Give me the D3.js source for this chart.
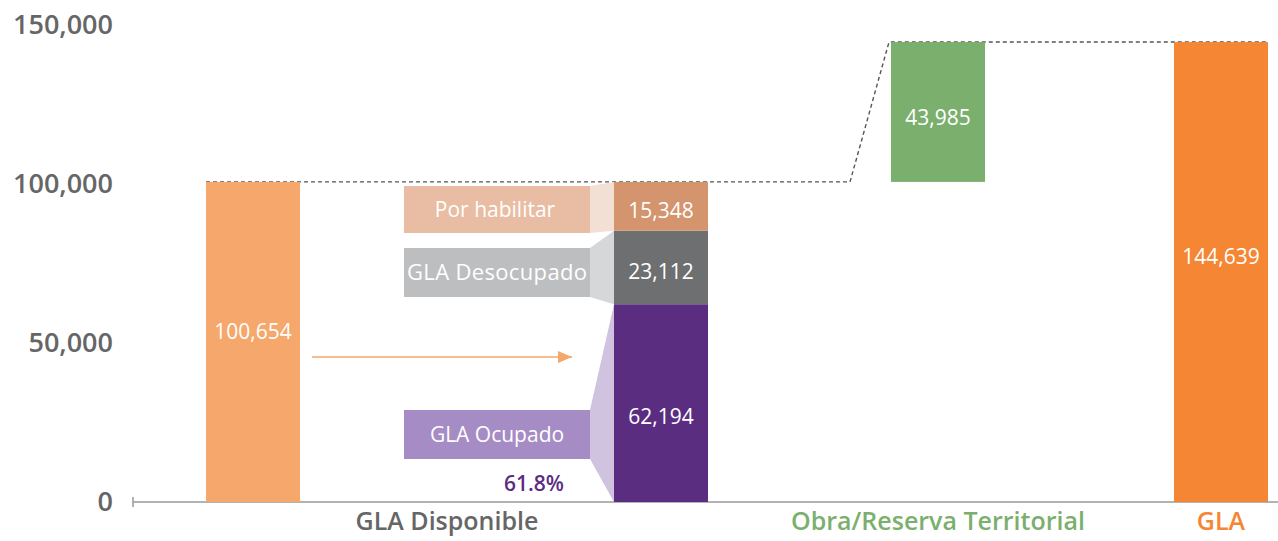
<!DOCTYPE html>
<html>
<head>
<meta charset="utf-8">
<script src="https://cdn.jsdelivr.net/npm/d3@7"></script>
<style>
  body { margin: 0; background: #fff; }
  svg text { font-family: "Open Sans", "Noto Sans", sans-serif; }
</style>
</head>
<body>
<svg id="chart" width="1278" height="541"></svg>
<script>
// data
var yTicks = [0, 50000, 100000, 150000];
var barNames = ["disponible", "desglose", "obra", "gla"];
var categoryLabels = ["GLA Disponible", "Obra/Reserva Territorial", "GLA"];
var disponible = 100654;
var segmentNames = ["GLA Ocupado", "GLA Desocupado", "Por habilitar"];
var segmentValues = [62194, 23112, 15348];
var obra = 43985;
var gla = 144639;
var ocupadoPct = "61.8%";

var svg = d3.select("#chart");

var y = d3.scaleLinear().domain([0, 150000]).range([502, 25]);
// bar centres
var x = d3.scaleOrdinal().domain(barNames).range([253, 661, 938, 1221]);
var bw = 94;
var fmt = d3.format(",");
var valSize = 21;

// y axis labels
svg.append("g").selectAll("text")
    .data(yTicks)
    .enter().append("text")
    .attr("x", 113)
    .attr("y", function (d) { return y(d); })
    .attr("dy", "0.35em")
    .attr("text-anchor", "end")
    .attr("fill", "#666")
    .attr("font-size", 27)
    .attr("font-weight", 600)
    .text(function (d) { return fmt(d); });

// baseline
svg.append("line")
    .attr("x1", 133).attr("x2", 1278)
    .attr("y1", y(0)).attr("y2", y(0))
    .attr("stroke", "#9a9a9a").attr("stroke-width", 1.5);
svg.append("line")
    .attr("x1", 133).attr("x2", 133)
    .attr("y1", y(0) - 5).attr("y2", y(0) + 5)
    .attr("stroke", "#9a9a9a").attr("stroke-width", 1.5);

// dashed connectors
var dash = d3.line();
svg.append("path")
    .attr("d", dash([
        [x("disponible") - bw / 2, y(disponible)],
        [850, y(disponible)],
        [x("obra") - bw / 2 - 2, y(gla)],
        [x("gla") + bw / 2, y(gla)]
    ]))
    .attr("fill", "none")
    .attr("stroke", "#555")
    .attr("stroke-width", 1.4)
    .attr("stroke-dasharray", "4,3");

// first bar
svg.append("rect")
    .attr("x", x("disponible") - bw / 2)
    .attr("y", y(disponible))
    .attr("width", bw)
    .attr("height", y(0) - y(disponible))
    .attr("fill", "#F5A76C");
svg.append("text")
    .attr("x", x("disponible"))
    .attr("y", y(disponible / 2) - 10)
    .attr("dy", "0.35em")
    .attr("text-anchor", "middle")
    .attr("fill", "#fff")
    .attr("font-size", valSize)
    .text(fmt(disponible));

// arrow
svg.append("defs").append("marker")
    .attr("id", "arrow")
    .attr("viewBox", "0 0 10 10")
    .attr("refX", 10).attr("refY", 5)
    .attr("markerWidth", 14).attr("markerHeight", 12)
    .attr("markerUnits", "userSpaceOnUse")
    .attr("orient", "auto")
    .attr("preserveAspectRatio", "none")
    .append("path")
    .attr("d", "M0,0L10,5L0,10Z")
    .attr("fill", "#F5A76C");
svg.append("line")
    .attr("x1", 312).attr("x2", 572)
    .attr("y1", 357).attr("y2", 357)
    .attr("stroke", "#F5A76C").attr("stroke-width", 1.5)
    .attr("marker-end", "url(#arrow)");

// stacked bar segments
var segColors = ["#5A2D81", "#6E6F71", "#D4946E"];
var boxColors = ["#A68CC4", "#BDBEC0", "#E8BDA3"];
var linkColors = ["#CFC3E0", "#D6D7D8", "#F3E0D5"];
var boxTop = [410, 248, 186];
var boxH = [49, 49, 47];
var stack = [];
var acc = 0;
segmentValues.forEach(function (v, i) {
    stack.push({ name: segmentNames[i], value: v, y0: acc, y1: acc + v, i: i });
    acc += v;
});

var bx = x("desglose") - bw / 2;
var boxL = 404, boxR = 590;

stack.forEach(function (s) {
    var t = y(s.y1), b = y(s.y0);
    var bt = boxTop[s.i], bb = boxTop[s.i] + boxH[s.i];
    // connector between label box and segment
    svg.append("path")
        .attr("d", d3.line()([[boxR, bt], [bx, t], [bx, b], [boxR, bb]]) + "Z")
        .attr("fill", linkColors[s.i]);
    svg.append("rect")
        .attr("x", boxL).attr("y", bt)
        .attr("width", boxR - boxL).attr("height", bb - bt)
        .attr("fill", boxColors[s.i]);
    svg.append("text")
        .attr("x", (boxL + boxR) / 2 + (s.i == 2 ? -2 : 0))
        .attr("y", (bt + bb) / 2)
        .attr("dy", "0.35em")
        .attr("text-anchor", "middle")
        .attr("fill", "#fff")
        .attr("font-size", s.i == 1 ? 22 : 21)
        .attr("textLength", s.i == 1 ? 180 : null)
        .text(s.name);
    svg.append("rect")
        .attr("x", bx).attr("y", t)
        .attr("width", bw).attr("height", b - t)
        .attr("fill", segColors[s.i]);
    svg.append("text")
        .attr("x", x("desglose"))
        .attr("y", s.i == 0 ? 417 : (t + b) / 2 + 4)
        .attr("dy", "0.35em")
        .attr("text-anchor", "middle")
        .attr("fill", "#fff")
        .attr("font-size", valSize)
        .text(fmt(s.value));
});

svg.append("text")
    .attr("x", 534).attr("y", 484)
    .attr("dy", "0.35em")
    .attr("text-anchor", "middle")
    .attr("fill", "#5A2D81")
    .attr("font-size", 21)
    .attr("font-weight", 600)
    .text(ocupadoPct);

// obra bar (floating)
svg.append("rect")
    .attr("x", x("obra") - bw / 2)
    .attr("y", y(disponible + obra))
    .attr("width", bw)
    .attr("height", y(disponible) - y(disponible + obra))
    .attr("fill", "#7BAF6E");
svg.append("text")
    .attr("x", x("obra"))
    .attr("y", y(disponible + obra / 2) + 6)
    .attr("dy", "0.35em")
    .attr("text-anchor", "middle")
    .attr("fill", "#fff")
    .attr("font-size", valSize)
    .text(fmt(obra));

// total bar
svg.append("rect")
    .attr("x", x("gla") - bw / 2)
    .attr("y", y(gla))
    .attr("width", bw)
    .attr("height", y(0) - y(gla))
    .attr("fill", "#F58634");
svg.append("text")
    .attr("x", x("gla"))
    .attr("y", y(gla / 2) - 15)
    .attr("dy", "0.35em")
    .attr("text-anchor", "middle")
    .attr("fill", "#fff")
    .attr("font-size", valSize)
    .text(fmt(gla));

// category labels
var catX = [447, x("obra"), x("gla")];
var catColors = ["#666", "#7BAF6E", "#F58634"];
svg.append("g").selectAll("text")
    .data(categoryLabels)
    .enter().append("text")
    .attr("x", function (d, i) { return catX[i]; })
    .attr("y", 521)
    .attr("dy", "0.35em")
    .attr("text-anchor", "middle")
    .attr("fill", function (d, i) { return catColors[i]; })
    .attr("font-size", 25)
    .attr("font-weight", 600)
    .text(function (d) { return d; });
</script>
</body>
</html>
